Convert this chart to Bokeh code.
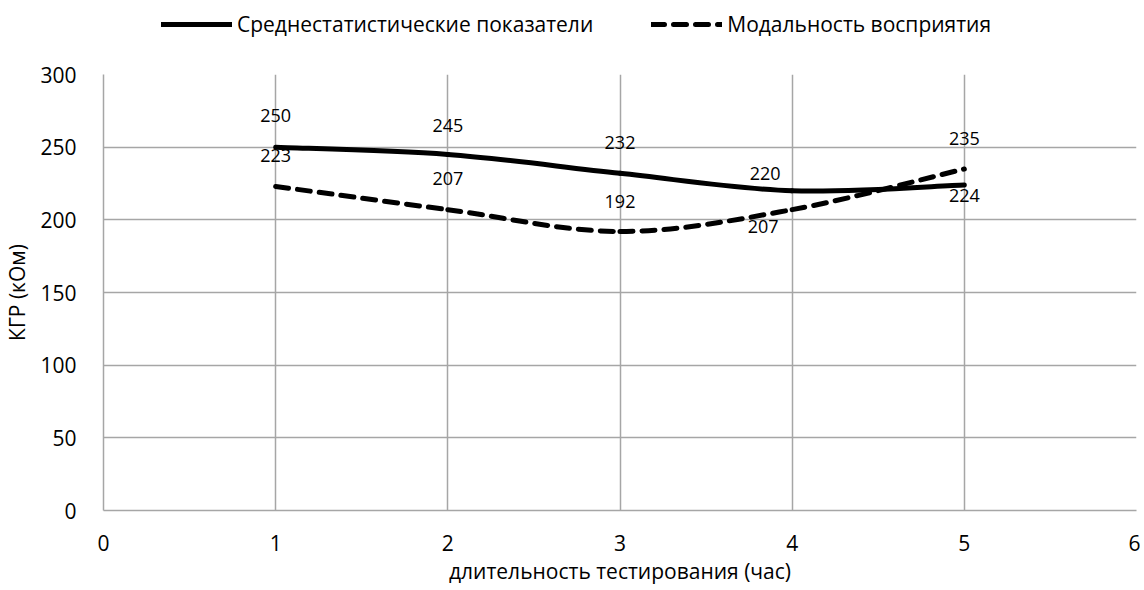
import numpy as np
from bokeh.plotting import figure
from bokeh.layouts import column
from bokeh.models import Legend, LegendItem, Range1d, FixedTicker, ColumnDataSource
from bokeh.core.properties import value
from bokeh.embed import file_html
from bokeh.resources import INLINE

# ---- data ----
hours = [1, 2, 3, 4, 5]
mean_values = [250, 245, 232, 220, 224]
modal_values = [223, 207, 192, 207, 235]
series_names = ["Среднестатистические показатели", "Модальность восприятия"]
x_ticks = [0, 1, 2, 3, 4, 5, 6]
y_ticks = [0, 50, 100, 150, 200, 250, 300]
x_title = "длительность тестирования (час)"
y_title = "КГР (кОм)"

# label offsets (screen px)
mean_label_dx = [0, 0, 0, -27, 0]
mean_label_dy = [-32, -29, -31, -17, 11]
modal_label_dx = [0, 0, 0, -29, 0]
modal_label_dy = [-31, -31, -30, 17, -30]

FONT = "Open Sans"
GRID = "#a6a6a6"
DASH = "13 9"
LW = 5
W = 1140
HL = 50                      # legend strip height
H = 538                      # chart height
BL, BR, BT, BB = 100, 4, 24, 78


def bezier_segments(xs, ys, t=1.0 / 6.0):
    x = np.asarray(xs, float)
    y = np.asarray(ys, float)
    n = len(x)
    xp = np.concatenate([[x[0]], x, [x[-1]]])
    yp = np.concatenate([[y[0]], y, [y[-1]]])
    return dict(
        x0=x[:-1], y0=y[:-1], x1=x[1:], y1=y[1:],
        cx0=x[:-1] + (xp[2:n + 1] - xp[0:n - 1]) * t,
        cy0=y[:-1] + (yp[2:n + 1] - yp[0:n - 1]) * t,
        cx1=x[1:] - (xp[3:n + 2] - xp[1:n]) * t,
        cy1=y[1:] - (yp[3:n + 2] - yp[1:n]) * t,
    )


p = figure(width=W, height=H, output_backend="svg", toolbar_location=None,
           x_range=Range1d(0, 6), y_range=Range1d(0, 300),
           min_border_left=BL, min_border_right=BR, min_border_top=BT, min_border_bottom=BB)
p.outline_line_color = None
p.background_fill_color = "white"

for ax in (p.xaxis[0], p.yaxis[0]):
    ax.axis_line_color = GRID
    ax.axis_line_width = 1.5
    ax.major_tick_line_color = None
    ax.minor_tick_line_color = None
    ax.major_label_text_font = FONT
    ax.major_label_text_font_size = "21px"
    ax.major_label_text_color = "black"
    ax.axis_label_text_font = FONT
    ax.axis_label_text_font_size = "21px"
    ax.axis_label_text_font_style = "normal"
    ax.axis_label_text_color = "black"

p.xaxis.ticker = FixedTicker(ticks=x_ticks)
p.yaxis.ticker = FixedTicker(ticks=y_ticks)
p.xaxis.axis_label = x_title
p.yaxis.axis_label = y_title
p.xaxis.major_label_standoff = 18
p.xaxis.axis_label_standoff = 3
p.yaxis.major_label_standoff = 21
p.yaxis.axis_label_standoff = 6

p.xgrid.ticker = FixedTicker(ticks=x_ticks)
p.ygrid.ticker = FixedTicker(ticks=y_ticks)
for g in (p.xgrid[0], p.ygrid[0]):
    g.grid_line_color = GRID
    g.grid_line_width = 1.5

# smooth curves
seg_mean = bezier_segments(hours, mean_values)
seg_modal = bezier_segments(hours, modal_values)
p.bezier(source=ColumnDataSource(seg_modal), x0="x0", y0="y0", x1="x1", y1="y1",
         cx0="cx0", cy0="cy0", cx1="cx1", cy1="cy1",
         line_color="black", line_width=LW, line_dash=DASH, line_cap="round")
p.bezier(source=ColumnDataSource(seg_mean), x0="x0", y0="y0", x1="x1", y1="y1",
         cx0="cx0", cy0="cy0", cx1="cx1", cy1="cy1",
         line_color="black", line_width=LW, line_cap="round")

# data labels
src_mean_lab = ColumnDataSource(dict(x=hours, y=mean_values, t=[str(v) for v in mean_values],
                                     dx=mean_label_dx, dy=mean_label_dy))
src_modal_lab = ColumnDataSource(dict(x=hours, y=modal_values, t=[str(v) for v in modal_values],
                                      dx=modal_label_dx, dy=modal_label_dy))
for s in (src_mean_lab, src_modal_lab):
    p.text(x="x", y="y", text="t", x_offset="dx", y_offset="dy", source=s,
           text_font=value(FONT), text_font_size="18px", text_color="black",
           text_align="center", text_baseline="middle")

# ---- legend strip (separate figure above the chart; its series lie outside its view) ----
lf = figure(width=W, height=HL, output_backend="svg", toolbar_location=None,
            x_range=Range1d(-2, -1), y_range=Range1d(-2, -1),
            x_axis_location=None, y_axis_location=None,
            min_border_left=0, min_border_right=0, min_border_top=0, min_border_bottom=0)
lf.outline_line_color = None
lf.xgrid.visible = False
lf.ygrid.visible = False
r_mean = lf.line(hours, mean_values, line_color="black", line_width=LW, line_cap="round")
r_modal = lf.line(hours, modal_values, line_color="black", line_width=LW, line_dash=DASH,
                  line_cap="round")

legend = Legend(items=[LegendItem(label=series_names[0], renderers=[r_mean]),
                       LegendItem(label=series_names[1], renderers=[r_modal])],
                location=(58, 12), orientation="horizontal",
                padding=0, margin=0, spacing=58, border_line_color=None, background_fill_alpha=0,
                glyph_width=71, glyph_height=20, label_height=20, label_standoff=5,
                label_text_font=FONT, label_text_font_size="21px", label_text_color="black")
lf.add_layout(legend, "center")

layout = column(lf, p, spacing=0)
open("out.html", "w").write(file_html(layout, INLINE))
